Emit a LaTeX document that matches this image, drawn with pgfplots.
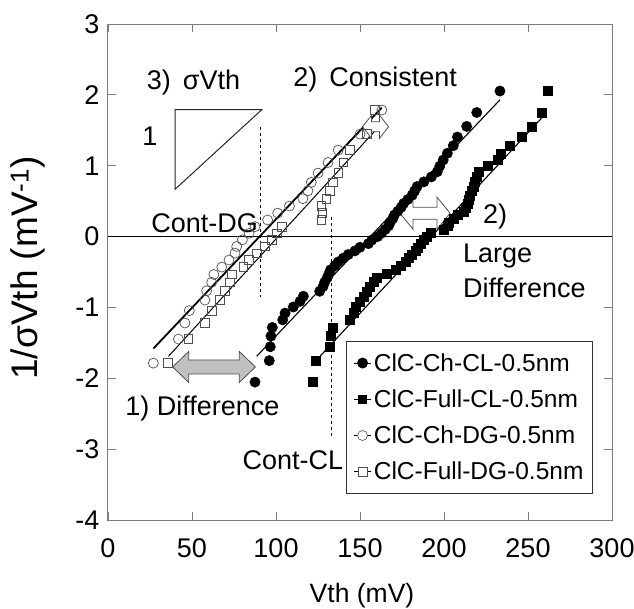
\documentclass[border=0pt]{standalone}
\usepackage{fontspec}
\setmainfont{Liberation Sans}
\usepackage{pgfplots}
\usepackage{pgfplotstable}
\pgfplotsset{compat=1.18}
\usetikzlibrary{calc}
\definecolor{axgray}{RGB}{125,125,125}
\definecolor{mkgray}{RGB}{80,80,80}
\definecolor{arrowgray}{RGB}{192,192,192}

\pgfplotstableread{
x y
87.5 -2.054
96 -1.751
96.6 -1.555
97 -1.405
97.8 -1.282
104 -1.175
105.4 -1.080
110.3 -0.994
114.3 -0.915
116.3 -0.842
126 -0.772
128 -0.706
129 -0.643
130.5 -0.583
131.5 -0.524
132.5 -0.468
135 -0.412
137 -0.358
140 -0.305
143 -0.253
147 -0.202
150 -0.151
155 -0.100
157 -0.050
160.5 0
163 0.050
165 0.100
167 0.151
168 0.202
169.5 0.253
170.5 0.305
172.5 0.358
174.5 0.412
176 0.468
178.5 0.524
181 0.583
182.5 0.643
184 0.706
188 0.772
192.5 0.842
196 0.915
197.5 0.994
199.5 1.080
202 1.175
205.5 1.282
208 1.405
213.5 1.555
219.5 1.751
233.3 2.054
}\chcl

\pgfplotstableread{
x y
121.6 -2.054
123.6 -1.751
132 -1.555
132.5 -1.405
134 -1.282
144 -1.175
146 -1.080
147.5 -0.994
150 -0.915
152 -0.842
154 -0.772
156 -0.706
158 -0.643
160 -0.583
166 -0.524
171 -0.468
174 -0.412
177 -0.358
179 -0.305
181 -0.253
183 -0.202
184.5 -0.151
186 -0.100
188 -0.050
189.5 0
192 0.050
199.6 0.100
202 0.151
203 0.202
206 0.253
208 0.305
212 0.358
213 0.412
214 0.468
214.5 0.524
215.5 0.583
216.5 0.643
217.5 0.706
218.5 0.772
219.5 0.842
220.4 0.915
226 0.994
232 1.080
234 1.175
239 1.282
246 1.405
252 1.555
258 1.751
262 2.054
}\fullcl

\pgfplotstableread{
x y
27 -1.786
41.9 -1.446
45.8 -1.220
48.4 -1.045
57.7 -0.896
58.7 -0.765
61.7 -0.646
63 -0.535
67.7 -0.431
72 -0.331
75.6 -0.234
76.6 -0.140
80 -0.046
84 0.046
87.5 0.140
95 0.234
101 0.331
108 0.431
116 0.535
119 0.646
121 0.765
125 0.896
131 1.045
137 1.220
150 1.446
163 1.786
}\chdg

\pgfplotstableread{
x y
35.5 -1.786
47.8 -1.446
57.7 -1.220
61.7 -1.045
66.7 -0.896
69.6 -0.765
72.6 -0.646
73.6 -0.535
80.5 -0.431
84 -0.331
88.5 -0.234
93.5 -0.140
97.4 -0.046
100.4 0.046
103.4 0.140
127 0.234
127.5 0.331
127 0.431
130 0.535
132 0.646
134 0.765
137 0.896
140 1.045
144 1.220
154 1.446
159 1.786
}\fulldg

\newcommand{\dblarrow}[7]{%
 \filldraw[fill=#7, draw=black!70, line width=0.8pt]
 (axis cs:#1,#3) -- ($(axis cs:#1,#3)+(#4,#5)$) -- ($(axis cs:#1,#3)+(#4,#6)$)
 -- ($(axis cs:#2,#3)+(-#4,#6)$) -- ($(axis cs:#2,#3)+(-#4,#5)$) -- (axis cs:#2,#3)
 -- ($(axis cs:#2,#3)+(-#4,-#5)$) -- ($(axis cs:#2,#3)+(-#4,-#6)$)
 -- ($(axis cs:#1,#3)+(#4,-#6)$) -- ($(axis cs:#1,#3)+(#4,-#5)$) -- cycle;}

\begin{document}
\begin{tikzpicture}[x=1pt,y=1pt]
\path[use as bounding box] (-108,-88) rectangle (526,520);
\begin{axis}[
 at={(0,0)}, anchor=south west,
 width=504pt, height=496pt, scale only axis,
 xmin=0, xmax=300, ymin=-4, ymax=3,
 xtick={0,50,100,150,200,250,300}, ytick={-4,-3,-2,-1,0,1,2,3},
 xticklabels={0,50,100,150,200,250,300},
 yticklabels={-4,-3,-2,-1,0,1,2,3},
 tick align=inside, xtick pos=both, ytick pos=both,
 major tick length=8pt,
 axis line style={axgray, line width=1pt},
 every tick/.style={axgray, line width=0.9pt},
 tick label style={font=\fontsize{27}{30}\selectfont},
 xticklabel style={yshift=-15pt},
 yticklabel style={xshift=-5pt},
 clip=false,
 legend cell align=left,
 legend style={at={(0.472,0.361)}, anchor=north west, draw=black!80, line width=0.9pt,
   font=\fontsize{24.5}{27}\selectfont, inner xsep=7pt, inner ysep=10pt, row sep=13pt},
]
\addlegendimage{black, line width=0.9pt, mark=*, mark size=5pt}
\addlegendentry{ClC-Ch-CL-0.5nm}
\addlegendimage{black, line width=0.9pt, mark=square*, mark size=4.3pt}
\addlegendentry{ClC-Full-CL-0.5nm}
\addlegendimage{black, line width=1.4pt, mark=*, mark size=5pt, mark options={fill=white, draw=mkgray, line width=0.6pt}}
\addlegendentry{ClC-Ch-DG-0.5nm}
\addlegendimage{black, line width=0.9pt, mark=square*, mark size=4.3pt, mark options={fill=white, draw=mkgray, line width=0.6pt}}
\addlegendentry{ClC-Full-DG-0.5nm}

% zero line
\draw[black, line width=1pt] (axis cs:0,0) -- (axis cs:300,0);

% data
\addplot[only marks, mark=o, mark size=5pt, mark options={draw=mkgray, line width=0.7pt}, forget plot] table {\chdg};
\addplot[only marks, mark=square, mark size=4.3pt, mark options={draw=mkgray, line width=0.7pt}, forget plot] table {\fulldg};
\addplot[only marks, mark=*, mark size=5.2pt, black, forget plot] table {\chcl};
\addplot[only marks, mark=square*, mark size=4.5pt, black, forget plot] table {\fullcl};

% fit lines
\addplot[black, line width=1.1pt, forget plot] coordinates {(88.5,-1.69) (233.3,1.93)};
\addplot[black, line width=1.1pt, forget plot] coordinates {(125,-1.72) (258,1.67)};
\addplot[black, line width=1.8pt, forget plot] coordinates {(27,-1.58) (163,1.82)};
\addplot[black, line width=1pt, forget plot] coordinates {(36,-1.69) (160,1.52)};

% triangle
\draw[black!85, line width=1pt] (axis cs:39.9,1.79) -- (axis cs:91.5,1.79) -- (axis cs:39.9,0.667) -- cycle;
% dashed lines
\draw[black, line width=0.9pt, dash pattern=on 3pt off 3pt] (axis cs:90.5,1.55) -- (axis cs:90.5,-0.85);
\draw[black, line width=0.9pt, dash pattern=on 3pt off 3pt] (axis cs:133.3,0.28) -- (axis cs:133.3,-2.82);

% arrows
\dblarrow{38.5}{87.7}{-1.84}{16pt}{15.5pt}{7pt}{arrowgray}
\dblarrow{173.8}{203.6}{0.33}{13pt}{16pt}{6pt}{white}
\dblarrow{151.5}{167}{1.55}{9pt}{11.5pt}{5pt}{white}

% annotations
\begin{scope}[every node/.style={font=\fontsize{27}{30}\selectfont, inner sep=0pt}]
\node at (axis cs:50.9,2.18) {3)\, σVth};
\node at (axis cs:159,2.21) {2)\, Consistent};
\node at (axis cs:25,1.41) {1};
\node at (axis cs:57.5,0.19) {Cont-DG};
\node at (axis cs:56.2,-2.42) {1) Difference};
\node at (axis cs:110,-3.16) {Cont-CL};
\node at (axis cs:230.4,0.28) {2)};
\node[anchor=west] at (axis cs:211.3,-0.27) {Large};
\node[anchor=west] at (axis cs:211.3,-0.73) {Difference};
\end{scope}
\end{axis}
\node[font=\fontsize{26.5}{29}\selectfont] at (254,-76) {Vth (mV)};
\node[font=\fontsize{37}{40}\selectfont, rotate=90] at (-80,252) {1/σVth (mV\textsuperscript{-1})};
\end{tikzpicture}
\end{document}
